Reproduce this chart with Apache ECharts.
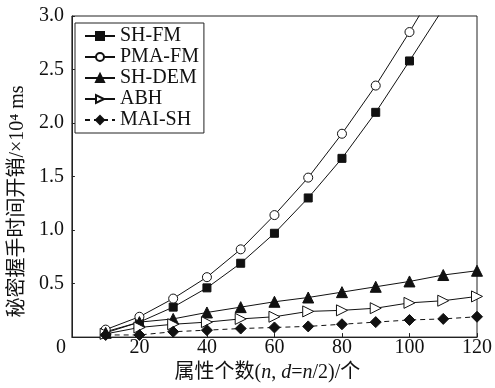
<!DOCTYPE html>
<html>
<head>
<meta charset="utf-8">
<script src="https://cdn.jsdelivr.net/npm/echarts@6/dist/echarts.min.js"></script>
<style>html,body{margin:0;padding:0;background:#fff;}#c{width:495px;height:388px;}</style>
</head>
<body>
<div id="c"></div>
<script>
var xValues = [10, 20, 30, 40, 50, 60, 70, 80, 90, 100, 110, 120];
var shFM   = [0.05, 0.14, 0.28, 0.46, 0.69, 0.97, 1.30, 1.67, 2.10, 2.58, 3.07, null];
var pmaFM  = [0.07, 0.19, 0.36, 0.56, 0.82, 1.14, 1.49, 1.90, 2.35, 2.85, 3.38, null];
var shDEM  = [0.04, 0.14, 0.17, 0.23, 0.28, 0.33, 0.37, 0.42, 0.47, 0.52, 0.58, 0.62];
var abh    = [0.03, 0.09, 0.12, 0.14, 0.17, 0.19, 0.24, 0.25, 0.27, 0.32, 0.34, 0.38];
var maiSH  = [0.02, 0.02, 0.05, 0.065, 0.08, 0.09, 0.10, 0.12, 0.14, 0.16, 0.17, 0.19];
var seriesNames = ['SH-FM', 'PMA-FM', 'SH-DEM', 'ABH', 'MAI-SH'];
var xTicks = [0, 20, 40, 60, 80, 100, 120];
var yTicks = [0, 0.5, 1.0, 1.5, 2.0, 2.5, 3.0];

function pairs(arr) {
  var out = [];
  for (var i = 0; i < xValues.length; i++) {
    if (arr[i] !== null) out.push([xValues[i], arr[i]]);
  }
  return out;
}

var serif = "'Liberation Serif', 'Noto Sans CJK SC', serif";
var chart = echarts.init(document.getElementById('c'), null, {renderer: 'canvas'});

function mk(name, data, symbol, size, filled, dashed, rotate) {
  return {
    name: name,
    type: 'line',
    data: pairs(data),
    symbol: symbol,
    symbolSize: size,
    symbolRotate: rotate || 0,
    showAllSymbol: true,
    clip: true,
    lineStyle: {color: '#111', width: 1, type: dashed ? [5, 4] : 'solid'},
    itemStyle: {color: filled ? '#111' : '#fff', borderColor: '#111', borderWidth: 1},
    emphasis: {disabled: true},
    animation: false
  };
}

chart.setOption({
  animation: false,
  backgroundColor: '#fff',
  grid: {left: 66, right: 16, top: 16, bottom: 45, show: true, borderColor: '#222', borderWidth: 1},
  legend: {
    orient: 'vertical',
    left: 75, top: 23,
    data: seriesNames,
    itemWidth: 30, itemHeight: 10,
    itemGap: 1,
    padding: [3, 5, 3, 9],
    borderColor: '#222', borderWidth: 1,
    backgroundColor: '#fff',
    textStyle: {fontFamily: serif, fontSize: 20, color: '#111', lineHeight: 20},
    selectedMode: false
  },
  xAxis: {
    type: 'value', min: 0, max: 120, interval: 20,
    name: '属性个数({i|n}, {i|d}={i|n}/2)/个',
    nameLocation: 'middle', nameGap: 25,
    nameTextStyle: {fontFamily: serif, fontSize: 20, color: '#111', padding: [0, 14, 0, 0],
      rich: {i: {fontFamily: serif, fontStyle: 'italic', fontSize: 20, color: '#111'}}},
    axisLine: {lineStyle: {color: '#222', width: 1}},
    axisTick: {inside: true, length: 4, lineStyle: {color: '#222'}},
    splitLine: {show: false},
    axisLabel: {
      fontFamily: serif, fontSize: 20, color: '#111', margin: 1,
      formatter: function (v) { return v === 0 ? '{z|0}' : String(v); },
      rich: {z: {fontFamily: serif, fontSize: 20, color: '#111', padding: [0, 22, 0, 0]}}
    }
  },
  yAxis: {
    type: 'value', min: 0, max: 3.0, interval: 0.5,
    name: '秘密握手时间开销/×10⁴ ms',
    nameLocation: 'middle', nameGap: 35, nameRotate: 90,
    nameTextStyle: {fontFamily: serif, fontSize: 20, color: '#111', padding: [0, 50, 0, 0]},
    axisLine: {show: true, lineStyle: {color: '#222', width: 1}},
    axisTick: {inside: true, length: 3, lineStyle: {color: '#222'}},
    splitLine: {show: false},
    axisLabel: {
      fontFamily: serif, fontSize: 20, color: '#111', margin: 8, showMinLabel: false,
      formatter: function (v) { return v.toFixed(1); }
    }
  },
  series: [
    mk(seriesNames[0], shFM, 'rect', 8, true, false),
    mk(seriesNames[1], pmaFM, 'circle', 9, false, false),
    mk(seriesNames[2], shDEM, 'triangle', 11, true, false),
    mk(seriesNames[3], abh, 'triangle', 11, false, false, -90),
    mk(seriesNames[4], maiSH, 'diamond', 11, true, true)
  ]
});
</script>
</body>
</html>
